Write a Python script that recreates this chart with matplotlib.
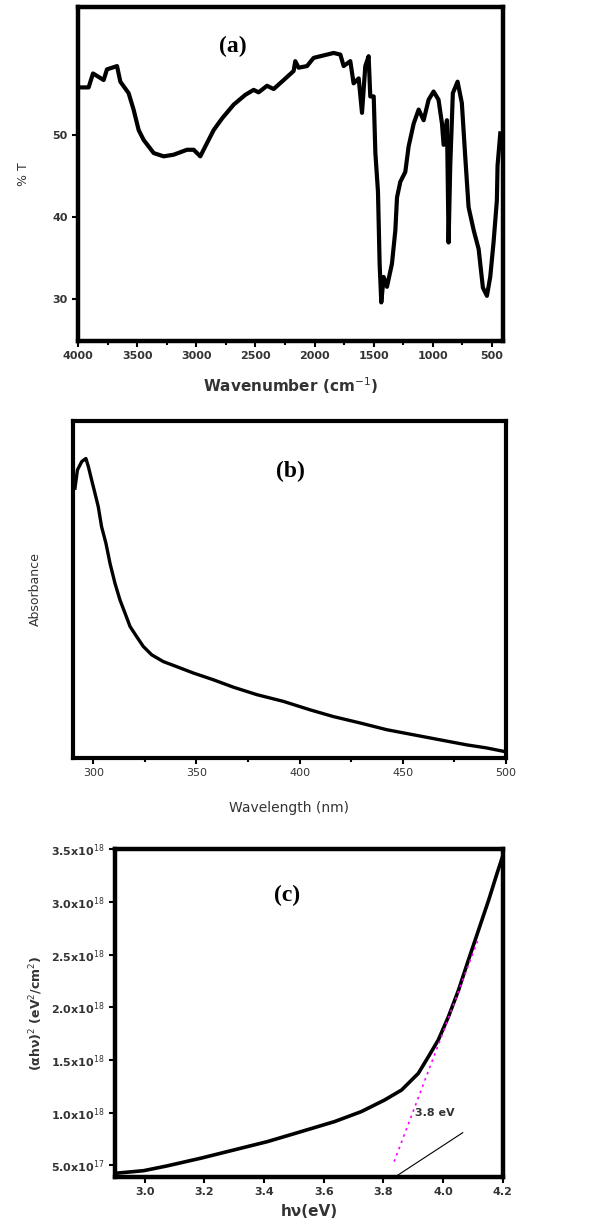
"""FTIR, UV-Vis absorbance and Tauc plot, stacked in three panels."""
import matplotlib
matplotlib.use("Agg")
import matplotlib.pyplot as plt
from matplotlib.ticker import MultipleLocator, FixedLocator

# (a) FTIR transmittance
ftir_wn = [4000, 3910, 3873, 3783, 3755, 3670, 3642, 3572, 3530, 3487, 3445,
           3360, 3276, 3191, 3079, 3022, 2966, 2924, 2853, 2783, 2684, 2585,
           2515, 2473, 2402, 2346, 2261, 2177, 2163, 2135, 2064, 2008, 1923,
           1839, 1782, 1754, 1698, 1670, 1627, 1599, 1571, 1543, 1529, 1500,
           1486, 1464, 1450, 1436, 1416, 1388, 1346, 1317, 1303, 1275, 1233,
           1205, 1162, 1120, 1078, 1036, 994, 952, 923, 909, 881, 867, 853,
           831, 791, 755, 726, 698, 655, 613, 577, 543, 515, 487, 459, 453,
           430]
ftir_t = [55.8, 55.8, 57.5, 56.7, 58.0, 58.4, 56.5, 55.1, 53.1, 50.6, 49.4,
          47.8, 47.4, 47.6, 48.2, 48.2, 47.4, 48.6, 50.6, 52.0, 53.7, 54.9,
          55.5, 55.2, 56.0, 55.6, 56.7, 57.8, 59.0, 58.2, 58.4, 59.4, 59.7,
          60.0, 59.8, 58.4, 59.0, 56.3, 56.9, 52.7, 58.4, 59.6, 54.7, 54.7,
          47.8, 43.1, 34.3, 29.6, 32.7, 31.5, 34.3, 38.4, 42.4, 44.3, 45.5,
          48.6, 51.4, 53.1, 51.8, 54.3, 55.3, 54.3, 51.4, 48.8, 51.8, 36.9, 46.3,
          55.1, 56.5, 53.9, 47.3, 41.2, 38.4, 36.1, 31.4, 30.4, 32.7, 36.9, 42.0, 46.3,
          50.2]

# (b) UV-Vis absorbance (arbitrary units)
uv_wl = [291.1, 292.3, 294.4, 296.4, 297.6, 299.2, 300.8, 302.4, 304.0, 306.1,
         308.1, 310.5, 312.9, 315.4, 317.8, 321.0, 324.2, 328.3, 333.9, 340.4,
         348.5, 358.2, 367.9, 379.2, 392.1, 405.0, 416.3, 429.3, 442.2, 455.1,
         468.0, 481.0, 490.6, 498.7]
uv_abs = [0.80, 0.854, 0.879, 0.888, 0.864, 0.824, 0.785, 0.745, 0.686, 0.637,
          0.577, 0.518, 0.469, 0.429, 0.390, 0.360, 0.331, 0.306, 0.286, 0.271,
          0.252, 0.232, 0.210, 0.188, 0.168, 0.143, 0.123, 0.104, 0.084, 0.069,
          0.054, 0.039, 0.030, 0.020]

# (c) Tauc plot, (alpha h nu)^2 in units of 1e18
tauc_hv = [2.90, 2.996, 3.074, 3.187, 3.299, 3.411, 3.524, 3.636, 3.726,
           3.804, 3.861, 3.917, 3.951, 3.984, 4.018, 4.052, 4.085, 4.119,
           4.153, 4.181, 4.203]
tauc_y = [0.424, 0.449, 0.494, 0.567, 0.646, 0.725, 0.820, 0.915, 1.010,
          1.120, 1.215, 1.373, 1.532, 1.690, 1.911, 2.165, 2.449, 2.734,
          3.019, 3.272, 3.462]
fit_hv = [3.836, 4.119]
fit_y = [0.535, 2.655]
tan_hv = [3.849, 4.066]
tan_y = [0.408, 0.810]

c_yticks = [0.5, 1.0, 1.5, 2.0, 2.5, 3.0, 3.5]
c_yticklabels = ["5.0x10$^{17}$", "1.0x10$^{18}$", "1.5x10$^{18}$",
                 "2.0x10$^{18}$", "2.5x10$^{18}$", "3.0x10$^{18}$",
                 "3.5x10$^{18}$"]

label_col = "#333333"


def style(ax, lw=3.0, size=8, weight="bold"):
    for s in ax.spines.values():
        s.set_linewidth(lw)
    ax.tick_params(which="both", direction="out", width=1.5, colors="black",
                   labelcolor=label_col, labelsize=size)
    ax.tick_params(which="major", length=4)
    ax.tick_params(which="minor", length=3)
    for t in ax.get_xticklabels() + ax.get_yticklabels():
        t.set_fontweight(weight)


fig = plt.figure(figsize=(5.89, 12.27), dpi=100)

# Panel (a)
ax1 = fig.add_axes([0.1324, 0.7221, 0.7216, 0.2722])
ax1.plot(ftir_wn, ftir_t, color="black", lw=3.0)
ax1.set_xlim(4000, 407)
ax1.set_ylim(24.9, 65.6)
ax1.xaxis.set_major_locator(FixedLocator([4000, 3500, 3000, 2500, 2000, 1500, 1000, 500]))
ax1.xaxis.set_minor_locator(FixedLocator([3750, 3250, 2750, 2250, 1750, 1250, 750]))
ax1.yaxis.set_major_locator(FixedLocator([30, 40, 50]))
style(ax1, 3.2)
ax1.set_xlabel("Wavenumber (cm$^{-1}$)", fontsize=11, fontweight="bold",
               color=label_col, labelpad=10)
ax1.set_ylabel("% T", fontsize=9, color=label_col, labelpad=16)
ax1.text(2689, 60.8, "(a)", fontsize=17, fontweight="bold",
         family="Liberation Serif", ha="center", va="center")

# Panel (b)
ax2 = fig.add_axes([0.1234, 0.3822, 0.7357, 0.2749])
ax2.plot(uv_wl, uv_abs, color="black", lw=2.4)
ax2.set_xlim(290, 500)
ax2.set_ylim(0, 1.0)
ax2.xaxis.set_major_locator(MultipleLocator(50))
ax2.xaxis.set_minor_locator(MultipleLocator(25))
ax2.set_yticks([])
style(ax2, 3.0, size=8, weight="normal")
ax2.set_xlabel("Wavelength (nm)", fontsize=10, color=label_col, labelpad=16)
ax2.set_ylabel("Absorbance", fontsize=9, color=label_col, labelpad=22)
ax2.text(395.3, 0.849, "(b)", fontsize=17, fontweight="bold",
         family="Liberation Serif", ha="center", va="center")

# Panel (c)
ax3 = fig.add_axes([0.1952, 0.0410, 0.6583, 0.2668])
ax3.plot(tauc_hv, tauc_y, color="black", lw=2.6)
ax3.plot(fit_hv, fit_y, color="magenta", lw=1.2, ls=(0, (1.5, 2.5)))
ax3.plot(tan_hv, tan_y, color="black", lw=0.8)
ax3.set_xlim(2.9, 4.2)
ax3.set_ylim(0.392, 3.5)
ax3.xaxis.set_major_locator(MultipleLocator(0.2))
ax3.set_yticks(c_yticks)
ax3.set_yticklabels(c_yticklabels)
style(ax3, 3.2)
ax3.set_xlabel("h\u03bd(eV)", fontsize=11, fontweight="bold",
               color=label_col, labelpad=5)
ax3.set_ylabel("(\u03b1h\u03bd)$^{2}$ (eV$^{2}$/cm$^{2}$)", fontsize=9,
               fontweight="bold", color=label_col, labelpad=4)
ax3.text(3.973, 1.0, "3.8 eV", fontsize=8, fontweight="bold", color=label_col,
         ha="center", va="center")
ax3.text(3.477, 3.06, "(c)", fontsize=17, fontweight="bold",
         family="Liberation Serif", ha="center", va="center")

fig.savefig("out.png", dpi=100)
